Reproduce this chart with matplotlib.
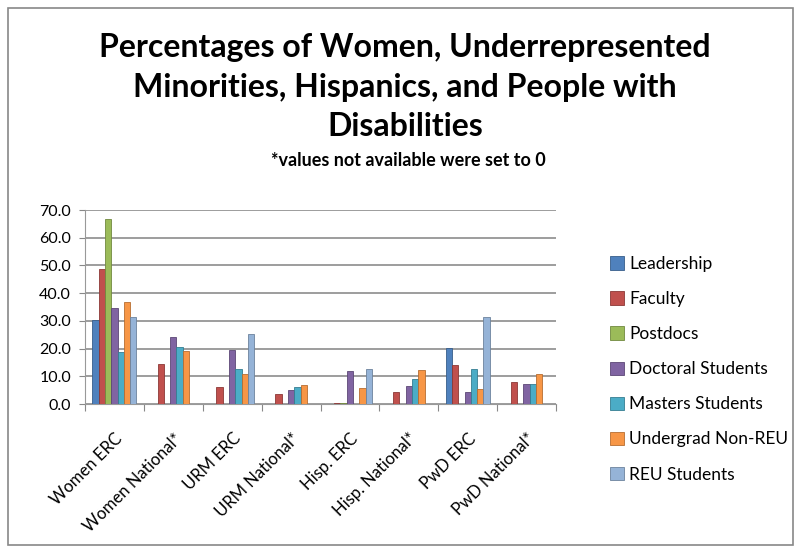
import numpy as np
import matplotlib.pyplot as plt
from matplotlib.patches import Rectangle

plt.rcParams['font.family'] = ['Lato', 'DejaVu Sans']

categories = ["Women ERC", "Women National*", "URM ERC", "URM National*",
              "Hisp. ERC", "Hisp. National*", "PwD ERC", "PwD National*"]
series = ["Leadership", "Faculty", "Postdocs", "Doctoral Students",
          "Masters Students", "Undergrad Non-REU", "REU Students"]

leadership = [30.2, 0, 0, 0, 0, 0, 20.2, 0]
faculty = [48.8, 14.4, 6.0, 3.6, 0.4, 4.2, 14.0, 7.8]
postdocs = [66.8, 0, 0, 0, 0.4, 0, 0, 0]
doctoral = [34.6, 24.0, 19.4, 5.2, 11.8, 6.6, 4.2, 7.3]
masters = [18.8, 20.6, 12.6, 6.0, 0, 9.1, 12.6, 7.3]
undergrad = [36.7, 19.0, 10.8, 6.9, 5.6, 12.4, 5.4, 10.8]
reu = [31.4, 0, 25.3, 0, 12.7, 0, 31.4, 0]

values = [leadership, faculty, postdocs, doctoral, masters, undergrad, reu]
colors = ["#4F81BD", "#C0504D", "#9BBB59", "#8064A2", "#4BACC6", "#F79646", "#95B3D7"]
edges = ["#385D8A", "#8C3836", "#71893F", "#5C4776", "#357D91", "#B66D31", "#6C829D"]

fig = plt.figure(figsize=(7.95, 5.5), dpi=100)
ax = fig.add_axes([85/795, 1 - 404/550, (556-85)/795, (404-210)/550])

x = np.arange(len(categories))
w = 0.107
for i, (vals, c, ec) in enumerate(zip(values, colors, edges)):
    ax.bar(x + (i - 3) * w, vals, w, color=c, edgecolor=ec, linewidth=0.6,
           label=series[i], zorder=3)

ax.set_xlim(-0.5, len(categories) - 0.5)
ax.set_ylim(0, 70)
ax.set_yticks(np.arange(0, 71, 10))
ax.set_yticklabels([f"{v:.1f}" for v in np.arange(0, 71, 10)], fontsize=11.5)
ax.set_xticks(np.arange(-0.5, len(categories), 1), minor=False)
ax.set_xticklabels([])
ax.set_xticks(x, minor=True)
ax.set_xticklabels(categories, minor=True, rotation=45, ha="right",
                   rotation_mode="anchor", fontsize=12)
ax.tick_params(axis="x", which="minor", length=0, pad=19)
ax.tick_params(axis="x", which="major", length=5, color="#888888", direction="out")
ax.tick_params(axis="y", length=4, color="#888888", pad=6)
ax.grid(axis="y", color="#8c8c8c", linewidth=1.2, zorder=0)
for s in ["top", "right"]:
    ax.spines[s].set_visible(False)
ax.spines["left"].set_color("#999999")
ax.spines["bottom"].set_color("#999999")

fig.text(405/795, 1 - 47/550, "Percentages of Women, Underrepresented",
         ha="center", va="center", fontsize=23, fontweight="bold")
fig.text(405/795, 1 - 87/550, "Minorities, Hispanics, and People with",
         ha="center", va="center", fontsize=23, fontweight="bold")
fig.text(405/795, 1 - 127/550, "Disabilities",
         ha="center", va="center", fontsize=23, fontweight="bold")
fig.text(408/795, 1 - 161/550, "*values not available were set to 0",
         ha="center", va="center", fontsize=13, fontweight="bold")

fig.legend(loc="upper left", bbox_to_anchor=(603/795, 1 - 249/550),
           frameon=False, fontsize=12.5, handlelength=0.8, handleheight=0.8,
           handletextpad=0.3, labelspacing=1.1, borderaxespad=0)

fig.patches.append(Rectangle((8/795, 5/550), 785/795, 537/550,
                             transform=fig.transFigure, fill=False,
                             edgecolor="#888888", linewidth=1.2))

fig.savefig("out.png", dpi=100)
